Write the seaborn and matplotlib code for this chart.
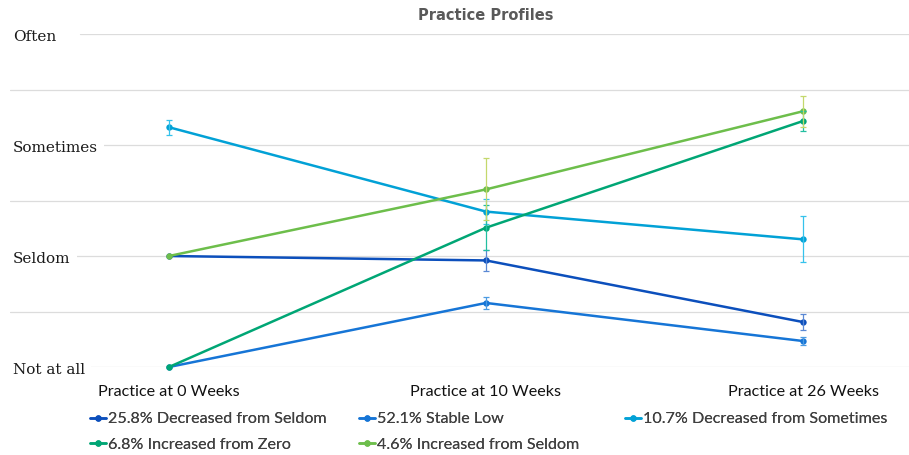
import matplotlib
matplotlib.use("Agg")
import matplotlib.pyplot as plt
import matplotlib.transforms as mtransforms
from matplotlib.lines import Line2D
import numpy as np
import pandas as pd
import seaborn as sns

# ---- data -------------------------------------------------------------
weeks = ["Practice at 0 Weeks", "Practice at 10 Weeks", "Practice at 26 Weeks"]
levels = ["Not at all", "Seldom", "Sometimes", "Often"]

profiles = [
    "25.8% Decreased from Seldom",
    "52.1% Stable Low",
    "10.7% Decreased from Sometimes",
    "6.8% Increased from Zero",
    "4.6% Increased from Seldom",
]

decreased_from_seldom = [1.00, 0.96, 0.405]
stable_low = [0.00, 0.577, 0.234]
decreased_from_sometimes = [2.16, 1.40, 1.15]
increased_from_zero = [0.00, 1.255, 2.216]
increased_from_seldom = [1.00, 1.60, 2.304]

err_decreased_from_seldom = [0.0, 0.095, 0.068]
err_stable_low = [0.0, 0.054, 0.040]
err_decreased_from_sometimes = [0.069, 0.11, 0.207]
err_increased_from_zero = [0.0, 0.20, 0.09]
err_increased_from_seldom = [0.0, 0.28, 0.14]

values = [decreased_from_seldom, stable_low, decreased_from_sometimes,
          increased_from_zero, increased_from_seldom]
errors = [err_decreased_from_seldom, err_stable_low, err_decreased_from_sometimes,
          err_increased_from_zero, err_increased_from_seldom]

line_colors = ["#0C4FBC", "#1675D6", "#02A1D6", "#00A675", "#6DBE4B"]
err_colors = ["#5A88D4", "#4C9BE2", "#35C2EC", "#22BFA0", "#C4D86C"]

df = pd.DataFrame(
    [(i, v, name) for name, vals in zip(profiles, values) for i, v in enumerate(vals)],
    columns=["week", "level", "profile"],
)

# ---- figure -----------------------------------------------------------
sns.set_theme(style="white")
plt.rcParams["font.family"] = ["Lato", "DejaVu Sans"]

W, H = 909, 455
fig = plt.figure(figsize=(W / 100, H / 100), dpi=100)
ax = fig.add_axes([10 / W, 1 - 367 / H, (W - 10) / W, (367 - 34) / H])

sns.lineplot(
    data=df, x="week", y="level", hue="profile", hue_order=profiles,
    palette=line_colors, marker="o", markersize=4.6, markeredgewidth=0,
    linewidth=1.8, legend=False, ax=ax, clip_on=False, zorder=2,
)

for vals, errs, ec in zip(values, errors, err_colors):
    idx = [i for i, e in enumerate(errs) if e > 0]
    ax.errorbar(idx, [vals[i] for i in idx], yerr=[errs[i] for i in idx],
                fmt="none", ecolor=ec, elinewidth=0.9, capsize=2.2,
                capthick=0.9, zorder=3, clip_on=False)

ax.set_xlim(-159 / 317, (W - 169) / 317)
ax.set_ylim(0, 3)
ax.set_xlabel("")
ax.set_ylabel("")
ax.set_xticks(range(len(weeks)))
ax.set_xticklabels(weeks, fontsize=11.6, color="#111111")
ax.tick_params(axis="x", length=0, pad=13.3)
ax.set_yticks(np.arange(0, 3, 0.5))
ax.set_yticklabels([])
ax.tick_params(axis="y", length=0)
ax.grid(axis="y", color="#DCDCDC", linewidth=0.9)
ax.grid(axis="x", visible=False)
ax.axhline(3, xmin=(80 - 10) / (W - 10), color="#DCDCDC", linewidth=0.9, zorder=0)
for s in ax.spines.values():
    s.set_visible(False)

# level names on the left, boxed in white over the gridlines
trans = mtransforms.blended_transform_factory(fig.transFigure, ax.transData)
trans = trans + mtransforms.ScaledTranslation(0, -1 / 100, fig.dpi_scale_trans)
for lvl_i, name in enumerate(levels):
    ax.text(13 / W, lvl_i, name, transform=trans, ha="left", va="center_baseline",
            fontsize=11, family=["DejaVu Serif"], color="#1a1a1a", zorder=4,
            bbox=dict(boxstyle="square,pad=0.4", fc="white", ec="none"))

fig.text(486 / W, 1 - 15 / H, "Practice Profiles", ha="center", va="center",
         fontsize=10.5, fontweight="bold", family=["DejaVu Sans"], color="#595959")

# legend laid out as three fixed-width columns
handles = [Line2D([], [], color=c, lw=1.8, marker="o", markersize=4.6,
                  markeredgewidth=0) for c in line_colors]
columns = [[0, 3], [1, 4], [2]]
col_x = [90, 359, 625]
for xs, members in zip(col_x, columns):
    leg = fig.legend([handles[m] for m in members], [profiles[m] for m in members],
                     loc="upper left", bbox_to_anchor=(xs / W, 1 - 412 / H),
                     frameon=False, fontsize=11.6, handlelength=1.0,
                     handletextpad=0.1, labelspacing=0.68, borderpad=0,
                     borderaxespad=0, labelcolor="#404040")
    fig.add_artist(leg)

fig.savefig("out.png", dpi=100)
